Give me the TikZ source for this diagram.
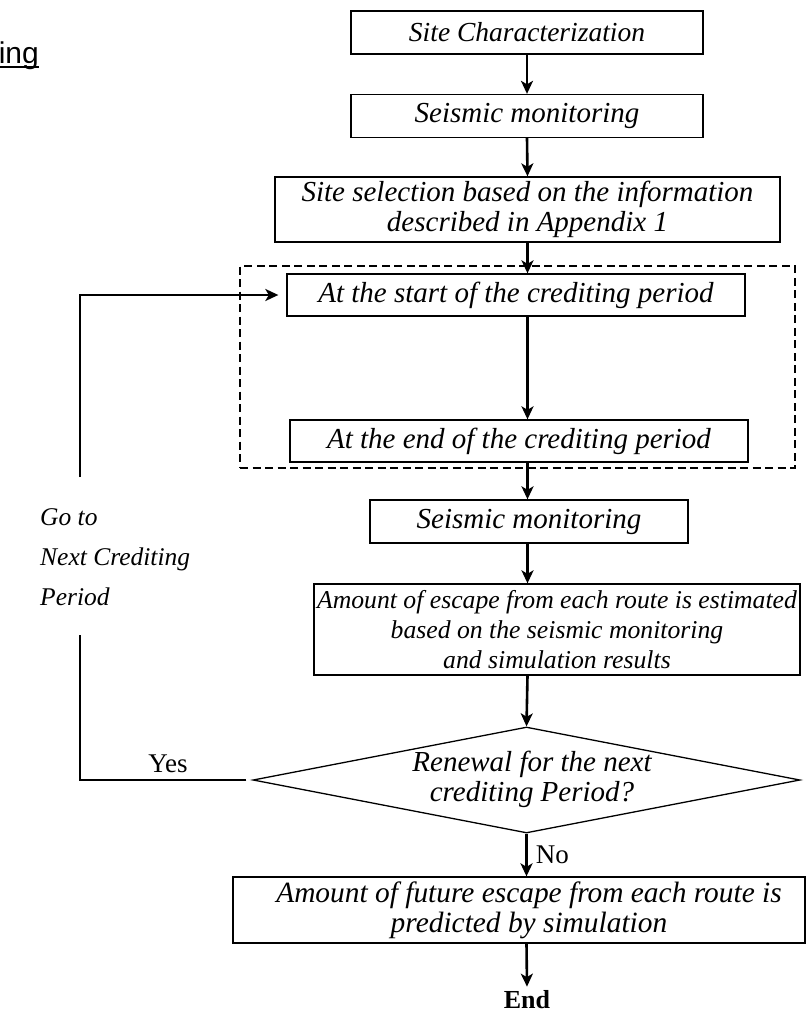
\documentclass[tikz,border=0pt]{standalone}
\usepackage{fontspec}
\setmainfont{Liberation Serif}
\newfontfamily\sansf{Liberation Sans}
\usetikzlibrary{shapes.geometric,arrows.meta}
\begin{document}
\begin{tikzpicture}[x=1pt,y=-1pt,
  txt/.style={font=\fontsize{29}{30}\selectfont\itshape, align=center, inner sep=0pt},
  box/.style={txt, draw, line width=1.3pt},
  dashbox/.style={draw, line width=2.4pt, dash pattern=on 8pt off 4.5pt, inner sep=0pt},
  arr/.style={-{Stealth[length=13pt,width=12pt,inset=3.5pt]}, line width=2.6pt},
  fbline/.style={line width=2.6pt},
  plain/.style={font=\fontsize{27}{30}\selectfont, inner sep=0pt}]
\useasboundingbox (0,0) rectangle (808,1017);

\node[anchor=base east, inner sep=0pt, font=\sansf\fontsize{30}{32}\selectfont] (ing) at (39,63) {ing};
\draw[line width=1.5pt] ([yshift=-4pt]ing.base west) -- ([yshift=-4pt]ing.base east);

\node[box, font=\fontsize{27.5}{30}\selectfont\itshape, minimum width=352pt, minimum height=43pt] (b1) at (527,32.5) {Site Characterization};
\node[box, minimum width=352pt, minimum height=43pt] (b2) at (527,116) {Seismic monitoring};
\node[box, minimum width=505pt, minimum height=65pt] (b3) at (527.5,209.5) {Site selection based on the information\\described in Appendix 1};
\node[dashbox, minimum width=555pt, minimum height=202pt] (grp) at (517.5,367) {};
\node[box, minimum width=458pt, minimum height=42pt] (s) at (516,295) {At the start of the crediting period};
\node[box, minimum width=458pt, minimum height=42pt] (e) at (519,441) {At the end of the crediting period};
\node[box, minimum width=318pt, minimum height=43pt] (b4) at (529,521.5) {Seismic monitoring};
\node[box, font=\fontsize{25.7}{30}\selectfont\itshape, minimum width=486pt, minimum height=91pt] (b5) at (557,629.5) {Amount of escape from each route is estimated\\based on the seismic monitoring\\and simulation results};
\node[draw, line width=1.3pt, shape=diamond, shape aspect=5.1, inner sep=0pt, minimum width=547pt, minimum height=106pt] (dia) at (526.5,780) {};
\node[txt] (diat) at (532,779) {Renewal for the next\\crediting Period?};
\node[draw, line width=1.3pt, inner sep=0pt, minimum width=572pt, minimum height=66pt] (b6) at (519,910) {};
\node[txt, font=\fontsize{29.4}{30}\selectfont\itshape] (b6t) at (529,910) {Amount of future escape from each route is\\predicted by simulation};
\node[plain, font=\fontsize{26}{28}\selectfont\bfseries] (endn) at (527,1000) {End};

\coordinate (c1) at (80,635);
\coordinate (c2) at (80,477);

\draw[arr] (b1.south) -- (b2.north);
\draw[arr] (b2.south) -- (b3.south |- b3.north);
\draw[arr] (b3.south) -- (b3.south |- s.north);
\draw[arr] (b3.south |- s.south) -- (b3.south |- e.north);
\draw[arr] (b3.south |- e.south) -- (b3.south |- b4.north);
\draw[arr] (b3.south |- b4.south) -- (b3.south |- b5.north);
\draw[arr] (b3.south |- b5.south) -- (dia.north);
\draw[arr] (dia.south) -- (dia.south |- b6.north) node[midway, right=8pt, plain] {No};
\draw[arr] (dia.south |- b6.south) -- ([yshift=4pt]endn.north);

\draw[fbline] ([xshift=-6pt]dia.west) -- (dia.west -| c1) -- (c1);
\draw[arr, shorten >=8pt] (c2) |- (s.west);

\node[plain, anchor=base] (yes) at (168,772) {Yes};
\node[txt, align=left, anchor=west, font=\fontsize{25.5}{40}\selectfont\itshape] (lbl) at (40,557) {Go to\\Next Crediting\\Period};
\end{tikzpicture}
\end{document}
